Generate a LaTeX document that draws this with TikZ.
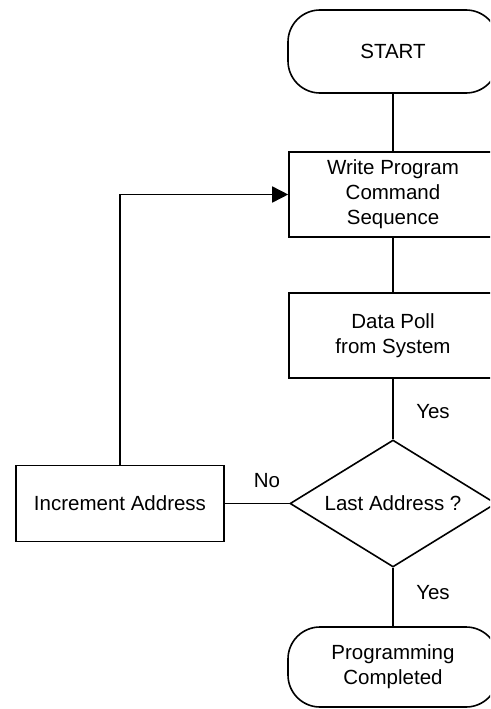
\documentclass[tikz,border=0pt]{standalone}
\usepackage{fontspec}
\setmainfont{Liberation Sans}
\usetikzlibrary{shapes.geometric,arrows.meta}
\begin{document}
\begin{tikzpicture}[x=1pt,y=1pt,
  every node/.style={font=\fontsize{20.5}{25}\selectfont, align=center},
  boxnode/.style={draw, line width=1.6pt, minimum width=208pt, inner sep=0pt},
  termnode/.style={draw, line width=1.6pt, rounded corners=32pt, minimum width=210pt, inner sep=0pt},
  decnode/.style={draw, line width=1.6pt, shape=diamond, aspect=1.622, minimum width=206pt, minimum height=127pt, inner sep=0pt},
  conn/.style={line width=1.6pt},
  lbl/.style={inner sep=0pt}]
\useasboundingbox (0,0) rectangle (490,-709);
\clip (0,0) rectangle (490,-709);
\node[termnode, minimum height=83pt] (start) at (393,-51.5) {START};
\node[boxnode, minimum height=85pt] (write) at (393,-194.5) {Write Program\\Command\\Sequence};
\node[boxnode, minimum height=85pt] (poll) at (393,-335.5) {Data Poll\\from System};
\node[decnode] (last) at (393,-503.5) {Last Address ?};
\node[boxnode, minimum height=76pt] (inc) at (120,-503.5) {Increment Address};
\node[termnode, minimum height=80pt] (done) at (393,-667) {Programming\\Completed};
\node[lbl] (yes1) at (433,-412) {Yes};
\node[lbl] (yes2) at (433,-593) {Yes};
\node[lbl] (no) at (267,-481) {No};
\draw[conn] (start) -- (write);
\draw[conn] (write) -- (poll);
\draw[conn] (poll) -- (last);
\draw[conn] (last) -- (done);
\draw[conn] (last.west) -- (inc.east);
\draw[conn, -{Triangle[length=16pt,width=16pt]}] (inc.north) |- (write.west);
\end{tikzpicture}
\end{document}
